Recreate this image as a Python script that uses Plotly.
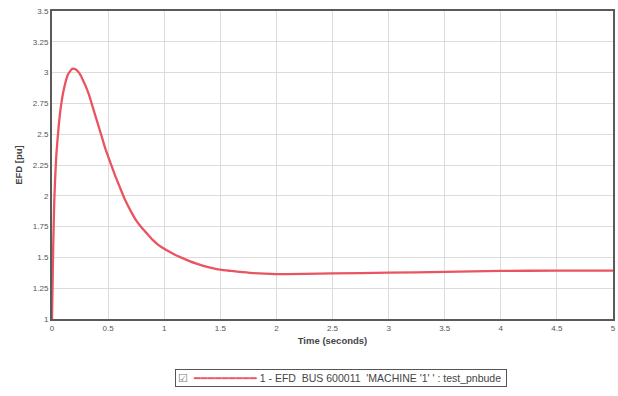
import plotly.graph_objects as go

time_s = [0, 0.01, 0.02, 0.03, 0.04, 0.06, 0.08, 0.10, 0.12, 0.14, 0.16, 0.18, 0.20,
          0.22, 0.24, 0.26, 0.28, 0.30, 0.33, 0.36, 0.40, 0.44, 0.48, 0.52, 0.56,
          0.60, 0.65, 0.70, 0.75, 0.80, 0.85, 0.90, 0.95, 1.0, 1.1, 1.2, 1.3, 1.4,
          1.5, 1.6, 1.7, 1.8, 2.0, 2.25, 2.5, 3.0, 3.5, 4.0, 4.5, 5.0]
efd_pu = [1.0, 1.55, 1.95, 2.18, 2.35, 2.57, 2.73, 2.84, 2.92, 2.98, 3.01, 3.03, 3.03,
          3.02, 3.0, 2.97, 2.93, 2.89, 2.82, 2.73, 2.61, 2.49, 2.37, 2.27, 2.17,
          2.08, 1.97, 1.88, 1.80, 1.74, 1.69, 1.64, 1.60, 1.57, 1.52, 1.48, 1.445, 1.42,
          1.40, 1.39, 1.38, 1.372, 1.365, 1.366, 1.37, 1.376, 1.382, 1.39, 1.393, 1.393]

x_ticks = [0, 0.5, 1, 1.5, 2, 2.5, 3, 3.5, 4, 4.5, 5]
x_labels = ["0", "0.5", "1", "1.5", "2", "2.5", "3", "3.5", "4", "4.5", "5"]
y_ticks = [1, 1.25, 1.5, 1.75, 2, 2.25, 2.5, 2.75, 3, 3.25, 3.5]
y_labels = ["1", "1.25", "1.5", "1.75", "2", "2.25", "2.5", "2.75", "3", "3.25", "3.5"]

series_name = "1 - EFD  BUS 600011  'MACHINE '1' ' : test_pnbude"
line_color = "#ea5461"

fig = go.Figure()
fig.add_trace(go.Scatter(
    x=time_s, y=efd_pu, mode="lines", name=series_name, showlegend=False,
    line=dict(color=line_color, width=2.3, shape="spline", smoothing=0.5),
))

# legend box (compact, like the source application)
legend_text = (
    '<span style="color:#777">☑</span>  '
    f'<span style="color:{line_color}">━━━━━━━━━</span> '
    f'{series_name} '
)
fig.add_annotation(
    xref="paper", yref="paper", x=0.516, y=-0.1916,
    xanchor="center", yanchor="middle", showarrow=False,
    text=legend_text, font=dict(size=10.5, color="#444"),
    bgcolor="white", bordercolor="#555", borderwidth=1, borderpad=2,
)

fig.update_layout(
    width=618, height=396,
    margin=dict(l=52, r=5, t=11, b=77),
    paper_bgcolor="white", plot_bgcolor="white",
    font=dict(family="Liberation Sans, Arial, sans-serif", size=8, color="#555"),
    showlegend=False,
)

fig.update_xaxes(
    range=[0, 5], tickvals=x_ticks, ticktext=x_labels,
    showgrid=True, gridcolor="#dcdcdc", gridwidth=1,
    showline=True, linecolor="#5a5a5a", linewidth=2, mirror=True,
    ticks="", zeroline=False, automargin=False, ticklabeloverflow="allow",
    title=dict(text="<b>Time (seconds)</b>", font=dict(size=9.5, color="#444"), standoff=6),
)
fig.update_yaxes(
    range=[1, 3.5], tickvals=y_ticks, ticktext=y_labels,
    showgrid=True, gridcolor="#dcdcdc", gridwidth=1,
    showline=True, linecolor="#5a5a5a", linewidth=2, mirror=True,
    ticks="", zeroline=False, automargin=False, ticklabeloverflow="allow",
    title=dict(text="<b>EFD [pu]</b>", font=dict(size=9.5, color="#444"), standoff=8),
)

# remove the default 8px page margin so the figure sits at the window origin
fig.write_html(
    "out.html",
    config={"displayModeBar": False},
    post_script="document.body.style.margin='0';document.body.style.overflow='hidden';",
)
